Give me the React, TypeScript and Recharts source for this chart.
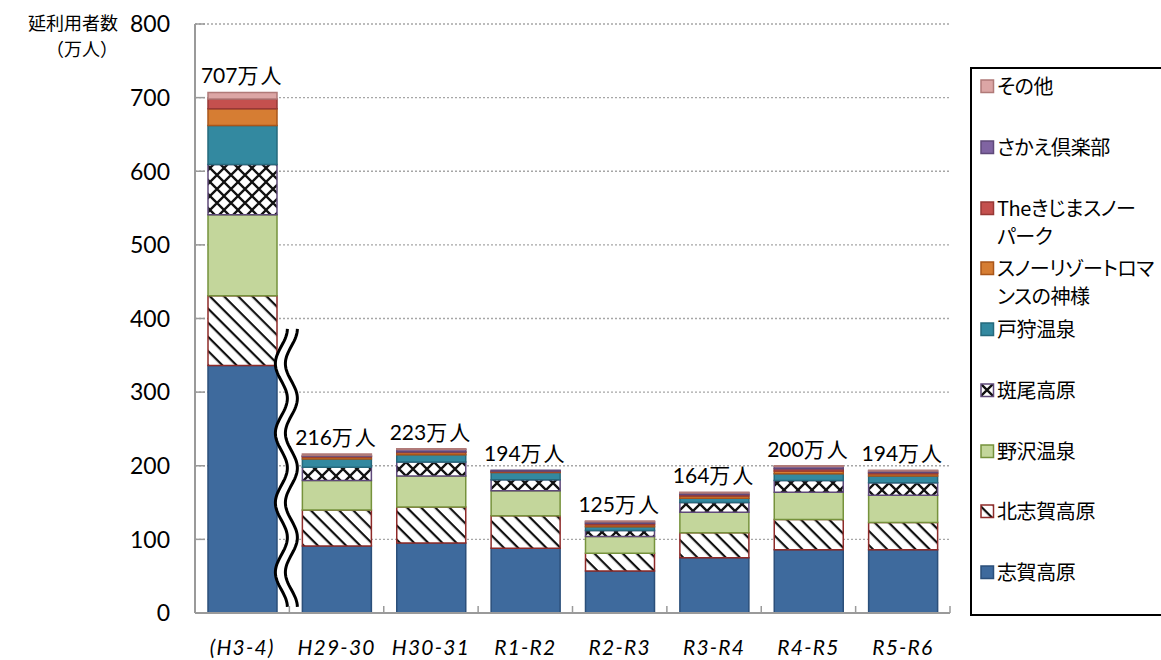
import React from 'react';
import { ComposedChart, Bar, Line, XAxis, YAxis, CartesianGrid, ReferenceArea, LabelList } from 'recharts';

// ---- data ----
const categories = ['(H3-4)', 'H29-30', 'H30-31', 'R1-R2', 'R2-R3', 'R3-R4', 'R4-R5', 'R5-R6'];
const shigaKogen = [336, 91, 95, 88, 57, 75, 86, 86];
const kitaShigaKogen = [95, 49, 49, 44, 24, 34, 41, 37];
const nozawaOnsen = [110, 40, 42, 34, 23, 28, 37, 37];
const madaraoKogen = [68, 18, 19, 15, 8, 13, 16, 17];
const togariOnsen = [53, 11, 10, 10, 5, 6, 9, 9];
const snowResortRomance = [23, 3, 3, 1, 3, 3, 4, 3];
const kijimaSnowPark = [13, 1, 1, 1, 2, 2, 3, 2];
const sakaeClub = [0, 1, 3, 1, 2, 2, 3, 2];
const others = [9, 2, 1, 0, 1, 1, 1, 1];
const totals = [707, 216, 223, 194, 125, 164, 200, 194];
const yTicks = [0, 100, 200, 300, 400, 500, 600, 700, 800];
const totalSuffix = '万人';
const yTitle = ['延利用者数', '（万人）'];

const seriesNames = ['志賀高原', '北志賀高原', '野沢温泉', '斑尾高原', '戸狩温泉', 'スノーリゾートロマンスの神様', 'Theきじまスノーパーク', 'さかえ倶楽部', 'その他'];
const legendLines = [['志賀高原'], ['北志賀高原'], ['野沢温泉'], ['斑尾高原'], ['戸狩温泉'], ['スノーリゾートロマ', 'ンスの神様'], ['Theきじまスノー', 'パーク'], ['さかえ倶楽部'], ['その他']];
const seriesValues = [shigaKogen, kitaShigaKogen, nozawaOnsen, madaraoKogen, togariOnsen, snowResortRomance, kijimaSnowPark, sakaeClub, others];
const seriesKeys = ['shiga', 'kitaShiga', 'nozawa', 'madarao', 'togari', 'romance', 'kijima', 'sakae', 'others'];
const seriesFill = ['#3e6a9d', 'url(#hatchDiag)', '#c3d69b', 'url(#crossPat)', '#3389a0', '#d67d33', '#c4504e', '#8064a2', '#dca6a5'];
const seriesStroke = ['#2b4f7a', '#8e2b29', '#76923c', '#5f497a', '#25697c', '#a9561a', '#973836', '#5f497a', '#b07a78'];

const data = categories.map((c, i) => {
  const row: any = { name: c, total: totals[i] };
  seriesKeys.forEach((k, j) => { row[k] = seriesValues[j][i]; });
  return row;
});

const FONT = "Lato, 'Noto Sans CJK JP', sans-serif";
const JFONT = "'Noto Sans CJK JP', sans-serif";

const YTick = (props: any) => {
  const { x, y, payload } = props;
  return (
    <g>
      <text x={x} y={y} dy="0.36em" textAnchor="end" fontSize={23} fontFamily={FONT} fill="#000">{payload.value}</text>
      <line x1={x + 25} x2={x + 35} y1={y} y2={y} stroke="#9a9a9a" strokeWidth={1.5} />
    </g>
  );
};

const XTick = (props: any) => {
  const { x, y, payload, index, visibleTicksCount, width } = props;
  const band = width && visibleTicksCount ? width / visibleTicksCount : 0;
  return (
    <g>
      <text x={x} y={y + 42} textAnchor="middle" fontSize={21} fontStyle="italic" letterSpacing={1.2} fontFamily={FONT} fill="#000">{payload.value}</text>
      {band > 0 && <line x1={x - band / 2} x2={x - band / 2} y1={y} y2={y - 7} stroke="#9a9a9a" strokeWidth={1.5} />}
      {band > 0 && index === visibleTicksCount - 1 && <line x1={x + band / 2} x2={x + band / 2} y1={y} y2={y - 7} stroke="#9a9a9a" strokeWidth={1.5} />}
    </g>
  );
};

const WaveBreak = (props: any) => {
  const { x, y, width, height } = props;
  if (x == null || !isFinite(x)) return null;
  const right = x + width;
  const P = height / 4;
  const amp = 6;
  const left: string[] = [];
  const rightPts: string[] = [];
  for (let t = 0; t <= height + 0.01; t += 2) {
    const dx = amp * Math.cos((2 * Math.PI * t) / P);
    left.push(`${(right - 8 + dx).toFixed(2)},${(y + t).toFixed(2)}`);
    rightPts.push(`${(right + 2 + dx).toFixed(2)},${(y + t).toFixed(2)}`);
  }
  const fillPath = `M${left.join(' L')} L${rightPts.slice().reverse().join(' L')} Z`;
  return (
    <g>
      <path d={fillPath} fill="#fff" stroke="none" />
      <path d={`M${left.join(' L')}`} fill="none" stroke="#000" strokeWidth={3} />
      <path d={`M${rightPts.join(' L')}`} fill="none" stroke="#000" strokeWidth={3} />
    </g>
  );
};

const TotalLabel = (props: any) => {
  const { x, y, value } = props;
  if (x == null || y == null) return null;
  return (
    <text x={x} y={y - 9} textAnchor="middle" fontSize={21} fontFamily={FONT} fill="#000">
      {value}
      <tspan fontFamily={JFONT} fontSize={21} letterSpacing={2}>{totalSuffix}</tspan>
    </text>
  );
};

const Swatch = ({ i }: { i: number }) => (
  <svg width={15} height={15} style={{ position: 'absolute', left: 8, top: 7 }}>
    <rect x={1} y={1} width={12.5} height={12.5} fill={seriesFill[i]} stroke={seriesStroke[i]} strokeWidth={1.5} />
  </svg>
);

export default function App() {
  const legendOrder = seriesNames.map((_, i) => i).reverse();
  return (
    <div style={{ position: 'absolute', left: 0, top: 0, width: 1161, height: 660, background: '#fff', overflow: 'hidden' }}>
      <svg width={0} height={0} style={{ position: 'absolute' }}>
        <defs>
          <pattern id="hatchDiag" patternUnits="userSpaceOnUse" width={10} height={10} patternTransform="rotate(45)">
            <rect width={10} height={10} fill="#fff" />
            <rect width={10} height={2.2} fill="#111" />
          </pattern>
          <pattern id="crossPat" patternUnits="userSpaceOnUse" width={14} height={14}>
            <rect width={14} height={14} fill="#fff" />
            <path d="M-2,-2 L16,16 M16,-2 L-2,16" stroke="#111" strokeWidth={2.3} />
          </pattern>
        </defs>
      </svg>
      <ComposedChart width={1161} height={660} data={data} margin={{ top: 24, right: 211, left: 0, bottom: 0 }} barSize={69}>
        <CartesianGrid vertical={false} stroke="#a6a6a6" strokeDasharray="2 2" strokeWidth={1.3} />
        <XAxis dataKey="name" height={47} tickLine={false} tickSize={0} tickMargin={0} interval={0} axisLine={{ stroke: '#9a9a9a', strokeWidth: 2 }} tick={<XTick />} />
        <YAxis width={195} domain={[0, 800]} ticks={yTicks} interval={0} tickLine={false} tickSize={0} tickMargin={25} axisLine={{ stroke: '#9a9a9a', strokeWidth: 2 }} tick={<YTick />} />
        {seriesKeys.map((k, j) => (
          <Bar key={k} dataKey={k} name={seriesNames[j]} stackId="a" fill={seriesFill[j]} stroke={seriesStroke[j]} strokeWidth={1.5} isAnimationActive={false} />
        ))}
        <Line dataKey="total" stroke="none" dot={false} activeDot={false} legendType="none" isAnimationActive={false}>
          <LabelList dataKey="total" content={<TotalLabel />} />
        </Line>
        <ReferenceArea x1={categories[0]} x2={categories[0]} y1={8} y2={386} shape={<WaveBreak />} fill="none" stroke="none" ifOverflow="visible" zIndex={1000} />
      </ComposedChart>
      <div style={{ position: 'absolute', left: 0, top: 9, width: 118, textAlign: 'right', fontFamily: JFONT, fontSize: 18, lineHeight: '26px', color: '#000' }}>
        <div>{yTitle[0]}</div>
        <div>{yTitle[1]}</div>
      </div>
      <div style={{ position: 'absolute', left: 970, top: 67, width: 220, height: 549, border: '2px solid #000', boxSizing: 'border-box', background: '#fff' }}>
        {legendOrder.map((i, r) => (
          <div key={i} style={{ position: 'absolute', left: 0, top: 17 + 60.75 * r - 14, width: 220 }}>
            <Swatch i={i} />
            <div style={{ marginLeft: 25, fontFamily: JFONT, fontSize: 20, letterSpacing: '-0.4px', lineHeight: '28px', whiteSpace: 'nowrap', color: '#000', fontFeatureSettings: '"palt"' }}>
              {legendLines[i].map((ln, q) => <div key={q}>{ln}</div>)}
            </div>
          </div>
        ))}
      </div>
    </div>
  );
}
